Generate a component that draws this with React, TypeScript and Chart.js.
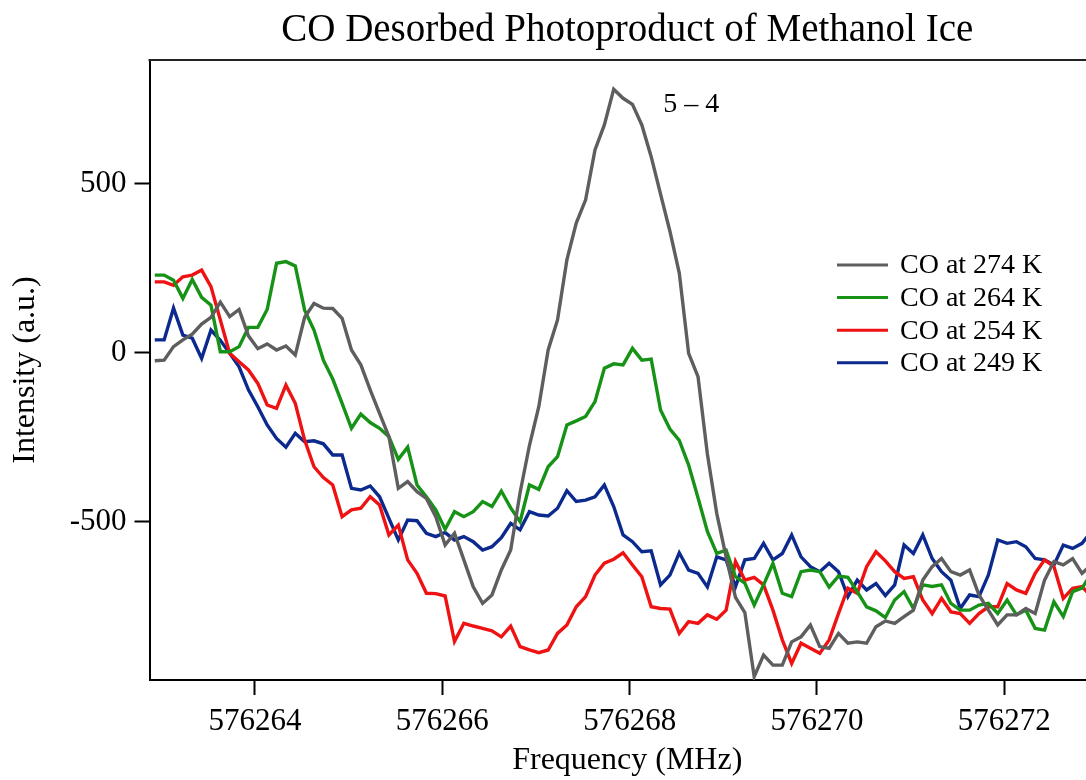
import React, { useEffect, useRef } from "react";
import { Chart, registerables } from "chart.js";

Chart.register(...registerables);

const TITLE = "CO Desorbed Photoproduct of Methanol Ice";
const X_TITLE = "Frequency (MHz)";
const Y_TITLE = "Intensity (a.u.)";
const PEAK_LABEL = "5 – 4";
const PEAK_LABEL_AT = { x: 576268.36, y: 734 };

const X_MIN = 576262.8736;
const X_MAX = 576273.0754;
const Y_MIN = -970;
const Y_MAX = 867.5;
const xTicks = [576264, 576266, 576268, 576270, 576272];
const yTicks = [-500, 0, 500];

const frequencies = [
  576262.93, 576263.03, 576263.13, 576263.23, 576263.33, 576263.43, 576263.53, 576263.63, 576263.73, 576263.83,
  576263.93, 576264.03, 576264.13, 576264.23, 576264.33, 576264.43, 576264.53, 576264.63, 576264.73, 576264.83,
  576264.93, 576265.03, 576265.13, 576265.23, 576265.33, 576265.43, 576265.53, 576265.63, 576265.73, 576265.83,
  576265.93, 576266.03, 576266.13, 576266.23, 576266.33, 576266.43, 576266.53, 576266.63, 576266.73, 576266.83,
  576266.93, 576267.03, 576267.13, 576267.23, 576267.33, 576267.43, 576267.53, 576267.63, 576267.73, 576267.83,
  576267.93, 576268.03, 576268.13, 576268.23, 576268.33, 576268.43, 576268.53, 576268.63, 576268.73, 576268.83,
  576268.93, 576269.03, 576269.13, 576269.23, 576269.33, 576269.43, 576269.53, 576269.63, 576269.73, 576269.83,
  576269.93, 576270.03, 576270.13, 576270.23, 576270.33, 576270.43, 576270.53, 576270.63, 576270.73, 576270.83,
  576270.93, 576271.03, 576271.13, 576271.23, 576271.33, 576271.43, 576271.53, 576271.63, 576271.73, 576271.83,
  576271.93, 576272.03, 576272.13, 576272.23, 576272.33, 576272.43, 576272.53, 576272.63, 576272.73, 576272.83,
  576272.93,
];

const co274 = [
  -24, -22, 18, 38, 55, 85, 105, 150, 107, 128,
  50, 12, 26, 8, 20, -7, 105, 146, 132, 131,
  102, 8, -36, -110, -180, -249, -402, -382, -412, -432,
  -486, -570, -535, -614, -694, -743, -718, -644, -585, -415,
  -275, -160, 8, 97, 275, 384, 453, 601, 675, 781,
  754, 736, 675, 581, 470, 360, 236, -2, -71, -300,
  -476, -605, -725, -770, -960, -896, -926, -926, -857, -842,
  -807, -871, -876, -832, -861, -857, -861, -812, -795, -802,
  -782, -763, -674, -634, -610, -649, -659, -644, -718, -763,
  -807, -777, -777, -758, -773, -674, -619, -629, -610, -654,
  -629,
];

const co264 = [
  230, 230, 215, 161, 217, 164, 141, 3, 3, 18,
  75, 75, 128, 265, 270, 257, 126, 67, -22, -78,
  -150, -224, -182, -207, -224, -249, -316, -280, -392, -427,
  -466, -523, -471, -486, -471, -441, -456, -410, -460, -501,
  -392, -405, -338, -308, -214, -202, -189, -145, -46, -33,
  -36, 13, -22, -19, -170, -226, -260, -333, -430, -530,
  -595, -585, -664, -683, -748, -688, -624, -713, -723, -649,
  -644, -649, -695, -662, -666, -708, -753, -765, -785, -733,
  -708, -758, -688, -693, -688, -743, -763, -763, -748, -743,
  -773, -733, -777, -763, -817, -822, -738, -782, -708, -698,
  -654,
];

const co254 = [
  210, 210, 200, 225, 230, 245, 196, 97, -2, -27,
  -51, -91, -155, -165, -96, -150, -259, -338, -370, -392,
  -486, -466, -461, -427, -451, -540, -511, -614, -654, -713,
  -714, -721, -856, -802, -810, -817, -824, -842, -810, -871,
  -881, -889, -881, -832, -807, -753, -723, -659, -624, -612,
  -593, -629, -664, -753, -758, -760, -832, -797, -802, -777,
  -790, -763, -619, -674, -666, -688, -763, -851, -921, -861,
  -876, -891, -851, -773, -698, -713, -634, -590, -617, -649,
  -669, -664, -733, -773, -728, -768, -773, -802, -773, -753,
  -753, -684, -703, -713, -654, -614, -634, -728, -698, -693,
  -723,
];

const co249 = [
  38, 38, 132, 52, 43, -17, 67, 37, -2, -42,
  -110, -160, -214, -254, -280, -239, -264, -261, -270, -303,
  -303, -402, -407, -395, -427, -491, -555, -496, -498, -535,
  -545, -533, -555, -545, -560, -585, -575, -548, -506, -525,
  -471, -481, -484, -461, -409, -441, -437, -427, -392, -456,
  -540, -560, -590, -587, -688, -659, -593, -644, -654, -694,
  -605, -614, -694, -614, -610, -565, -614, -595, -540, -605,
  -634, -649, -624, -649, -723, -674, -703, -684, -720, -688,
  -570, -595, -540, -610, -649, -674, -758, -718, -723, -659,
  -555, -565, -560, -575, -610, -614, -629, -570, -580, -565,
  -530,
];

const seriesLabels = ["CO at 274 K", "CO at 264 K", "CO at 254 K", "CO at 249 K"];
const seriesValues = [co274, co264, co254, co249];
const seriesColors = ["#5e5e5e", "#169316", "#ef1212", "#0c2a8e"];

const FONT = '"Liberation Serif", "Times New Roman", serif';

const framePlugin = {
  id: "frameAndText",
  afterDraw(chart: any) {
    const { ctx, chartArea, scales } = chart;
    ctx.save();
    // top frame line
    ctx.strokeStyle = "#222";
    ctx.lineWidth = 2;
    ctx.beginPath();
    ctx.moveTo(chartArea.left - 1, chartArea.top);
    ctx.lineTo(chartArea.right, chartArea.top);
    ctx.stroke();

    // title
    ctx.fillStyle = "#000";
    ctx.font = `39px ${FONT}`;
    ctx.textAlign = "center";
    ctx.textBaseline = "alphabetic";
    ctx.fillText(TITLE, (chartArea.left + chartArea.right) / 2, 41);

    // peak annotation
    ctx.font = `28px ${FONT}`;
    ctx.textAlign = "left";
    ctx.textBaseline = "middle";
    ctx.fillText(
      PEAK_LABEL,
      scales.x.getPixelForValue(PEAK_LABEL_AT.x),
      scales.y.getPixelForValue(PEAK_LABEL_AT.y)
    );

    // legend
    const lineX0 = 837;
    const lineX1 = 888;
    const textX = 900;
    const rowTop = 265;
    const rowGap = 32.6;
    chart.data.datasets.forEach((ds: any, i: number) => {
      const y = rowTop + i * rowGap;
      ctx.strokeStyle = ds.borderColor;
      ctx.lineWidth = 3;
      ctx.beginPath();
      ctx.moveTo(lineX0, y);
      ctx.lineTo(lineX1, y);
      ctx.stroke();
      ctx.fillStyle = "#000";
      ctx.font = `28px ${FONT}`;
      ctx.textAlign = "left";
      ctx.textBaseline = "middle";
      ctx.fillText(ds.label, textX, y + 1);
    });
    ctx.restore();
  },
};

export default function App() {
  const canvasRef = useRef<HTMLCanvasElement | null>(null);

  useEffect(() => {
    if (!canvasRef.current) return;
    const datasets = seriesValues.map((vals, k) => ({
      label: seriesLabels[k],
      data: frequencies.map((f, i) => ({ x: f, y: vals[i] })),
      borderColor: seriesColors[k],
      backgroundColor: seriesColors[k],
      borderWidth: 3.4,
      pointRadius: 0,
      tension: 0,
      fill: false,
    }));

    const chart = new Chart(canvasRef.current, {
      type: "line",
      data: { datasets },
      plugins: [framePlugin],
      options: {
        responsive: false,
        maintainAspectRatio: false,
        animation: false,
        devicePixelRatio: 1,
        layout: { padding: { top: 60, left: 0, right: 0, bottom: 0 } },
        plugins: {
          legend: { display: false },
          title: { display: false },
          tooltip: { enabled: false },
        },
        scales: {
          x: {
            type: "linear",
            min: X_MIN,
            max: X_MAX,
            afterBuildTicks: (s: any) => {
              s.ticks = xTicks.map((v) => ({ value: v }));
            },
            afterFit: (s: any) => {
              s.height = 100;
            },
            ticks: {
              autoSkip: false,
              maxRotation: 0,
              padding: 8,
              color: "#000",
              font: { family: FONT, size: 31 },
              callback: (v: any) => String(v),
            },
            grid: {
              display: true,
              drawOnChartArea: false,
              drawTicks: true,
              tickLength: 15,
              tickWidth: 2,
              tickColor: "#000",
            },
            border: { display: true, color: "#000", width: 2 },
            title: {
              display: true,
              text: X_TITLE,
              color: "#000",
              font: { family: FONT, size: 32 },
              padding: { top: 0, bottom: 0 },
            },
          },
          y: {
            type: "linear",
            min: Y_MIN,
            max: Y_MAX,
            afterBuildTicks: (s: any) => {
              s.ticks = yTicks.map((v) => ({ value: v }));
            },
            afterFit: (s: any) => {
              s.width = 149.5;
            },
            ticks: {
              padding: 8,
              color: "#000",
              font: { family: FONT, size: 31 },
              callback: (v: any) => String(v),
            },
            grid: {
              display: true,
              drawOnChartArea: false,
              drawTicks: true,
              tickLength: 15,
              tickWidth: 2,
              tickColor: "#000",
            },
            border: { display: true, color: "#000", width: 2 },
            title: {
              display: true,
              text: Y_TITLE,
              color: "#000",
              font: { family: FONT, size: 32 },
              padding: { top: 6, bottom: 0 },
            },
          },
        },
      },
    });
    return () => chart.destroy();
  }, []);

  return (
    <div
      style={{
        position: "fixed",
        left: 0,
        top: 0,
        width: 1086,
        height: 780,
        overflow: "hidden",
        background: "#fff",
      }}
    >
      <canvas ref={canvasRef} width={1105} height={780} style={{ display: "block" }} />
    </div>
  );
}
